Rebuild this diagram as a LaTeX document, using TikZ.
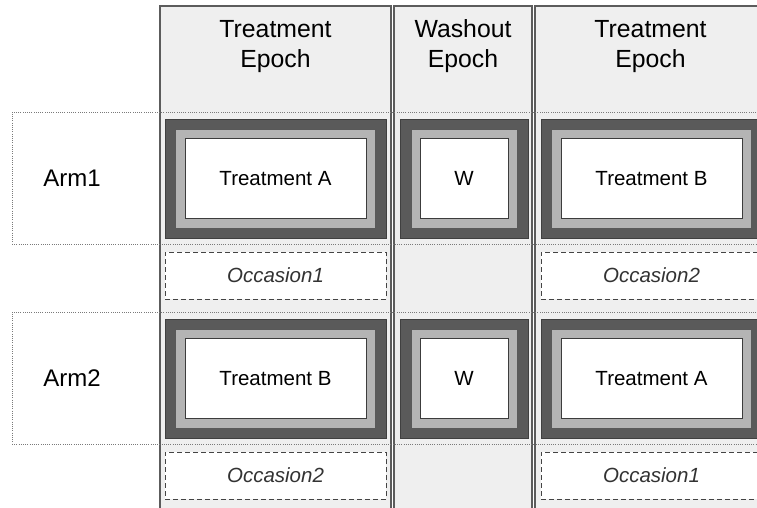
\documentclass[tikz,border=0pt]{standalone}
\usepackage{fontspec}
\setmainfont{Liberation Sans}
\definecolor{colfill}{HTML}{EFEFEF}
\definecolor{colline}{HTML}{5C5C5C}
\definecolor{darkring}{HTML}{5A5A5A}
\definecolor{lightring}{HTML}{B4B4B4}
\definecolor{cellline}{HTML}{3C3C3C}
\definecolor{dotline}{HTML}{7A7A7A}
\definecolor{dashline}{HTML}{444444}
\definecolor{occtext}{HTML}{333333}
\newcommand\trialcell[7]{%
  \node[darkbox, minimum width=#4pt] (#1o) at (#2,#3) {};
  \node[lightbox, minimum width=#5pt] (#1m) at (#1o.center) {};
  \node[whitebox, minimum width=#6pt] (#1) at (#1o.center) {#7};
}
\begin{document}
\begin{tikzpicture}[x=1pt,y=-1pt,
  epochcol/.style={rectangle, draw=colline, line width=1.8pt, fill=colfill,
    inner sep=0pt, minimum height=514pt},
  header/.style={inner sep=0pt, align=center, font=\fontsize{24.8}{30}\selectfont},
  rowbox/.style={rectangle, draw=dotline, line width=0.9pt, dash pattern=on 0.9pt off 1.3pt,
    inner sep=0pt, minimum width=768pt, minimum height=132pt},
  armlabel/.style={inner sep=0pt, font=\fontsize{24}{28}\selectfont},
  darkbox/.style={rectangle, fill=darkring, draw=black!75, line width=0.5pt,
    inner sep=0pt, minimum height=119pt},
  lightbox/.style={rectangle, fill=lightring, draw=black!65, line width=0.6pt,
    inner sep=0pt, minimum height=99pt},
  whitebox/.style={rectangle, fill=white, draw=cellline, line width=1pt,
    inner sep=0pt, minimum height=80pt, font=\fontsize{20.5}{24}\selectfont},
  occasion/.style={rectangle, draw=dashline, line width=0.9pt, dash pattern=on 5pt off 3pt,
    fill=white, inner sep=0pt, minimum width=221pt, minimum height=47pt,
    text=occtext, font=\fontsize{20.5}{24}\selectfont\itshape}
]
\useasboundingbox (0,0) rectangle (757,508);
\clip (0,0) rectangle (757,508);
% epoch columns
\node[epochcol, minimum width=231pt] (colA) at (275.5,263) {};
\node[epochcol, minimum width=138pt] (colW) at (463,263) {};
\node[epochcol, minimum width=231pt] (colB) at (650.5,263) {};
\node[header] (hA) at (275.5,46.4) {Treatment\\Epoch};
\node[header] (hW) at (463,46.4) {Washout\\Epoch};
\node[header] (hB) at (650.5,46.4) {Treatment\\Epoch};
% arm rows
\node[rowbox] (row1) at (396,178) {};
\node[rowbox] (row2) at (396,378) {};
\node[armlabel] (arm1) at (72,178.5) {Arm1};
\node[armlabel] (arm2) at (72,378.5) {Arm2};
% cells
\trialcell{a1}{275.5}{178.5}{221}{200}{181}{Treatment A}
\trialcell{w1}{464}{178.5}{128}{106}{88}{W}
\trialcell{b1}{651.5}{178.5}{221}{200}{181}{Treatment B}
\trialcell{a2}{275.5}{378.5}{221}{200}{181}{Treatment B}
\trialcell{w2}{464}{378.5}{128}{106}{88}{W}
\trialcell{b2}{651.5}{378.5}{221}{200}{181}{Treatment A}
% occasions
\node[occasion] (o11) at (275.5,275.5) {Occasion1};
\node[occasion] (o12) at (651.5,275.5) {Occasion2};
\node[occasion] (o21) at (275.5,475.5) {Occasion2};
\node[occasion] (o22) at (651.5,475.5) {Occasion1};
\end{tikzpicture}
\end{document}
